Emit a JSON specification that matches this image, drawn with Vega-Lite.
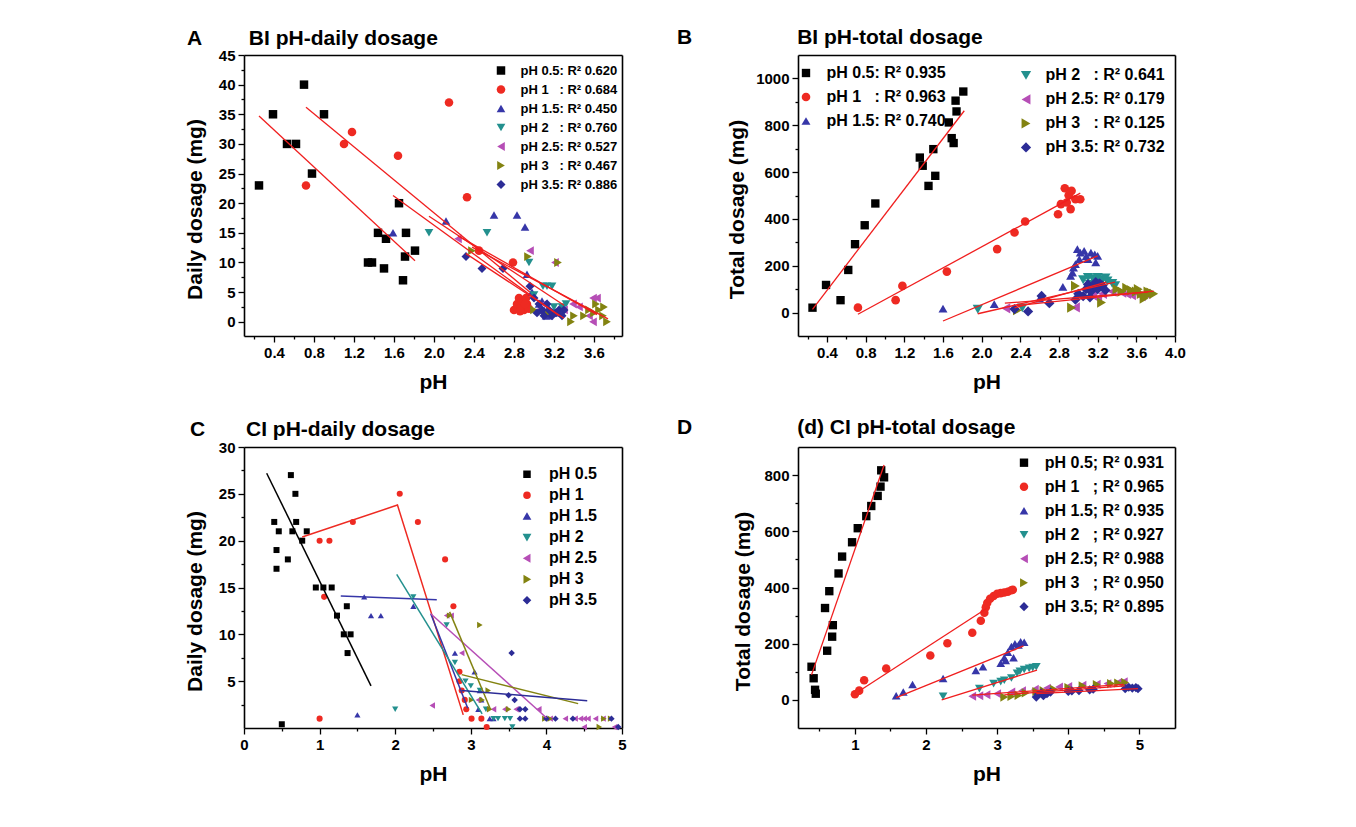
{
"$schema":"https://vega.github.io/schema/vega-lite/v6.json",
"padding":{"left":184,"top":26,"right":10,"bottom":10},
"background":"white",
"config":{
 "font":"Liberation Sans",
 "view":{"stroke":null},
 "axis":{"labelFont":"Liberation Sans","labelFontSize":15,"labelFontWeight":"bold","labelColor":"#000","titleFont":"Liberation Sans","titleFontSize":21,"titleFontWeight":"bold","titleColor":"#000","domain":true,"domainColor":"#000","domainWidth":1.6,"grid":false,"tickColor":"#000","tickWidth":1.3,"labelPadding":3,"labelOverlap":false,"labelFlush":false,"labelBound":false},
 "axisX":{"titlePadding":11},
 "axisY":{"titlePadding":13,"titleY":154},
 "legend":{"labelFont":"Liberation Sans","labelFontWeight":"bold","labelColor":"#000","padding":0,"orient":"none"},
 "title":{"anchor":"start","frame":"group","fontSize":21,"fontWeight":"bold","font":"Liberation Sans","color":"#000","baseline":"alphabetic","offset":11}
},
"datasets":{
"aP":[
{"k":"0.5","x":0.25,"y":23},{"k":"0.5","x":0.39,"y":35},{"k":"0.5","x":0.53,"y":30},{"k":"0.5","x":0.62,"y":30},{"k":"0.5","x":0.70,"y":40},{"k":"0.5","x":0.78,"y":25},{"k":"0.5","x":0.90,"y":35},{"k":"0.5","x":1.34,"y":10},{"k":"0.5","x":1.38,"y":10},{"k":"0.5","x":1.44,"y":15},{"k":"0.5","x":1.50,"y":9},{"k":"0.5","x":1.52,"y":14},{"k":"0.5","x":1.65,"y":20},{"k":"0.5","x":1.69,"y":7},{"k":"0.5","x":1.71,"y":11},{"k":"0.5","x":1.72,"y":15},{"k":"0.5","x":1.81,"y":12},
{"k":"1","x":0.72,"y":23},{"k":"1","x":1.10,"y":30},{"k":"1","x":1.18,"y":32},{"k":"1","x":1.64,"y":28},{"k":"1","x":2.15,"y":37},{"k":"1","x":2.33,"y":21},{"k":"1","x":2.45,"y":12},{"k":"1","x":2.79,"y":10},{"k":"1","x":2.80,"y":2},{"k":"1","x":2.83,"y":3},{"k":"1","x":2.85,"y":4},{"k":"1","x":2.87,"y":2.5},{"k":"1","x":2.88,"y":3.5},{"k":"1","x":2.90,"y":2},{"k":"1","x":2.92,"y":4},{"k":"1","x":2.93,"y":3},{"k":"1","x":2.95,"y":2.2},{"k":"1","x":2.86,"y":1.8},{"k":"1","x":2.91,"y":3},
{"k":"1.5","x":1.59,"y":15},{"k":"1.5","x":2.12,"y":17},{"k":"1.5","x":2.60,"y":18},{"k":"1.5","x":2.83,"y":18},{"k":"1.5","x":2.91,"y":16},{"k":"1.5","x":2.93,"y":8},{"k":"1.5","x":2.98,"y":5},{"k":"1.5","x":3.05,"y":3},{"k":"1.5","x":3.10,"y":2},{"k":"1.5","x":3.15,"y":1},{"k":"1.5","x":3.20,"y":2},{"k":"1.5","x":3.25,"y":1.5},{"k":"1.5","x":3.12,"y":1},{"k":"1.5","x":3.08,"y":3.5},
{"k":"2","x":1.95,"y":15},{"k":"2","x":2.53,"y":15},{"k":"2","x":2.95,"y":10},{"k":"2","x":3.09,"y":6},{"k":"2","x":3.13,"y":6},{"k":"2","x":3.18,"y":6},{"k":"2","x":3.28,"y":2.5},{"k":"2","x":3.20,"y":2.5},{"k":"2","x":3.00,"y":4.5},{"k":"2","x":3.32,"y":3},
{"k":"2.5","x":2.24,"y":14},{"k":"2.5","x":2.96,"y":12},{"k":"2.5","x":3.21,"y":10},{"k":"2.5","x":3.39,"y":3},{"k":"2.5","x":3.59,"y":4},{"k":"2.5","x":3.63,"y":4},{"k":"2.5","x":3.59,"y":0},{"k":"2.5","x":3.05,"y":2},{"k":"2.5","x":3.15,"y":1.5},{"k":"2.5","x":3.30,"y":2},{"k":"2.5","x":3.45,"y":2.5},{"k":"2.5","x":3.55,"y":1},{"k":"2.5","x":3.10,"y":3},
{"k":"3","x":2.38,"y":12},{"k":"3","x":2.94,"y":11},{"k":"3","x":3.24,"y":10},{"k":"3","x":3.00,"y":2},{"k":"3","x":3.37,"y":0},{"k":"3","x":3.50,"y":1},{"k":"3","x":3.55,"y":2},{"k":"3","x":3.62,"y":3},{"k":"3","x":3.65,"y":2},{"k":"3","x":3.69,"y":1},{"k":"3","x":3.73,"y":0},{"k":"3","x":3.70,"y":2.5},{"k":"3","x":3.15,"y":1.5},{"k":"3","x":3.40,"y":1},{"k":"3","x":3.60,"y":1.5},
{"k":"3.5","x":2.32,"y":11},{"k":"3.5","x":2.48,"y":9},{"k":"3.5","x":2.69,"y":9},{"k":"3.5","x":2.96,"y":6},{"k":"3.5","x":3.00,"y":4},{"k":"3.5","x":3.05,"y":3},{"k":"3.5","x":3.08,"y":2},{"k":"3.5","x":3.10,"y":1},{"k":"3.5","x":3.13,"y":3},{"k":"3.5","x":3.15,"y":2},{"k":"3.5","x":3.18,"y":1},{"k":"3.5","x":3.22,"y":1.5},{"k":"3.5","x":3.25,"y":2},{"k":"3.5","x":3.30,"y":2},{"k":"3.5","x":3.28,"y":1},{"k":"3.5","x":3.03,"y":1.5}
],
"aL":[
{"g":"1","x":0.25,"y":34.7},{"g":"1","x":1.81,"y":10.3},
{"g":"2","x":0.72,"y":36.2},{"g":"2","x":2.96,"y":5.0},
{"g":"3","x":1.59,"y":21.3},{"g":"3","x":3.25,"y":1.0},
{"g":"4","x":1.95,"y":17.8},{"g":"4","x":3.30,"y":2.8},
{"g":"5","x":2.24,"y":14.5},{"g":"5","x":3.63,"y":1.2},
{"g":"6","x":2.38,"y":12.6},{"g":"6","x":3.74,"y":0.5},
{"g":"7","x":2.32,"y":11.5},{"g":"7","x":3.30,"y":0.6}
],
"bP":[
{"k":"0.5","x":0.25,"y":21},{"k":"0.5","x":0.39,"y":118},{"k":"0.5","x":0.54,"y":53},{"k":"0.5","x":0.62,"y":182},{"k":"0.5","x":0.69,"y":292},{"k":"0.5","x":0.79,"y":373},{"k":"0.5","x":0.90,"y":466},{"k":"0.5","x":1.36,"y":662},{"k":"0.5","x":1.39,"y":627},{"k":"0.5","x":1.45,"y":541},{"k":"0.5","x":1.50,"y":698},{"k":"0.5","x":1.52,"y":584},{"k":"0.5","x":1.66,"y":812},{"k":"0.5","x":1.69,"y":745},{"k":"0.5","x":1.71,"y":724},{"k":"0.5","x":1.73,"y":905},{"k":"0.5","x":1.74,"y":859},{"k":"0.5","x":1.81,"y":944},
{"k":"1","x":0.72,"y":21},{"k":"1","x":1.11,"y":53},{"k":"1","x":1.18,"y":114},{"k":"1","x":1.64,"y":175},{"k":"1","x":2.16,"y":271},{"k":"1","x":2.34,"y":342},{"k":"1","x":2.45,"y":389},{"k":"1","x":2.79,"y":420},{"k":"1","x":2.82,"y":463},{"k":"1","x":2.86,"y":531},{"k":"1","x":2.90,"y":501},{"k":"1","x":2.93,"y":520},{"k":"1","x":2.92,"y":442},{"k":"1","x":2.97,"y":484},{"k":"1","x":3.02,"y":484},{"k":"1","x":2.88,"y":470},
{"k":"1.5","x":1.60,"y":17},{"k":"1.5","x":2.13,"y":36},{"k":"1.5","x":2.60,"y":60},{"k":"1.5","x":2.84,"y":110},{"k":"1.5","x":2.92,"y":157},{"k":"1.5","x":2.95,"y":192},{"k":"1.5","x":2.97,"y":207},{"k":"1.5","x":2.99,"y":271},{"k":"1.5","x":3.02,"y":256},{"k":"1.5","x":3.06,"y":264},{"k":"1.5","x":3.10,"y":228},{"k":"1.5","x":3.13,"y":256},{"k":"1.5","x":3.17,"y":249},{"k":"1.5","x":3.18,"y":214},{"k":"1.5","x":3.20,"y":242},{"k":"1.5","x":3.01,"y":228},{"k":"1.5","x":2.94,"y":171},{"k":"1.5","x":3.08,"y":240},
{"k":"2","x":1.96,"y":14},{"k":"2","x":2.42,"y":20},{"k":"2","x":3.05,"y":140},{"k":"2","x":3.10,"y":150},{"k":"2","x":3.15,"y":145},{"k":"2","x":3.20,"y":150},{"k":"2","x":3.25,"y":140},{"k":"2","x":3.30,"y":135},{"k":"2","x":3.35,"y":125},{"k":"2","x":3.38,"y":115},{"k":"2","x":3.12,"y":120},{"k":"2","x":3.22,"y":125},{"k":"2","x":3.28,"y":148},
{"k":"2.5","x":2.25,"y":18},{"k":"2.5","x":2.97,"y":22},{"k":"2.5","x":3.15,"y":75},{"k":"2.5","x":3.20,"y":60},{"k":"2.5","x":3.25,"y":80},{"k":"2.5","x":3.35,"y":90},{"k":"2.5","x":3.45,"y":85},{"k":"2.5","x":3.50,"y":80},{"k":"2.5","x":3.55,"y":75},{"k":"2.5","x":3.60,"y":85},{"k":"2.5","x":3.65,"y":70},{"k":"2.5","x":3.70,"y":80},
{"k":"3","x":2.37,"y":10},{"k":"3","x":2.93,"y":21},{"k":"3","x":2.97,"y":114},{"k":"3","x":3.24,"y":43},{"k":"3","x":3.40,"y":100},{"k":"3","x":3.45,"y":90},{"k":"3","x":3.50,"y":105},{"k":"3","x":3.55,"y":95},{"k":"3","x":3.60,"y":90},{"k":"3","x":3.62,"y":100},{"k":"3","x":3.65,"y":80},{"k":"3","x":3.68,"y":60},{"k":"3","x":3.70,"y":70},{"k":"3","x":3.72,"y":90},{"k":"3","x":3.75,"y":85},{"k":"3","x":3.78,"y":80},
{"k":"3.5","x":2.34,"y":15},{"k":"3.5","x":2.48,"y":5},{"k":"3.5","x":2.62,"y":71},{"k":"3.5","x":2.70,"y":40},{"k":"3.5","x":2.97,"y":55},{"k":"3.5","x":3.00,"y":80},{"k":"3.5","x":3.05,"y":70},{"k":"3.5","x":3.08,"y":100},{"k":"3.5","x":3.10,"y":120},{"k":"3.5","x":3.12,"y":65},{"k":"3.5","x":3.13,"y":90},{"k":"3.5","x":3.15,"y":110},{"k":"3.5","x":3.18,"y":130},{"k":"3.5","x":3.20,"y":100},{"k":"3.5","x":3.22,"y":125},{"k":"3.5","x":3.25,"y":115},{"k":"3.5","x":3.28,"y":95}
],
"bL":[
{"g":"1","x":0.25,"y":14},{"g":"1","x":1.82,"y":862},
{"g":"2","x":0.72,"y":-7},{"g":"2","x":3.02,"y":510},
{"g":"3","x":1.60,"y":-36},{"g":"3","x":3.20,"y":242},
{"g":"4","x":1.96,"y":-5},{"g":"4","x":3.38,"y":130},
{"g":"5","x":2.24,"y":40},{"g":"5","x":3.72,"y":88},
{"g":"6","x":2.36,"y":30},{"g":"6","x":3.78,"y":92},
{"g":"7","x":2.34,"y":20},{"g":"7","x":3.29,"y":130}
],
"cP":[
{"k":"0.5","x":0.40,"y":22},{"k":"0.5","x":0.46,"y":21},{"k":"0.5","x":0.43,"y":19},{"k":"0.5","x":0.43,"y":17},{"k":"0.5","x":0.58,"y":18},{"k":"0.5","x":0.62,"y":27},{"k":"0.5","x":0.64,"y":21},{"k":"0.5","x":0.68,"y":25},{"k":"0.5","x":0.69,"y":22},{"k":"0.5","x":0.77,"y":20},{"k":"0.5","x":0.83,"y":21},{"k":"0.5","x":0.95,"y":15},{"k":"0.5","x":1.05,"y":15},{"k":"0.5","x":1.16,"y":15},{"k":"0.5","x":1.23,"y":12},{"k":"0.5","x":1.32,"y":10},{"k":"0.5","x":1.36,"y":13},{"k":"0.5","x":1.41,"y":10},{"k":"0.5","x":1.37,"y":8},{"k":"0.5","x":0.50,"y":0.4},
{"k":"1","x":1.00,"y":20},{"k":"1","x":1.13,"y":20},{"k":"1","x":1.06,"y":14},{"k":"1","x":1.44,"y":22},{"k":"1","x":1.00,"y":1},{"k":"1","x":2.06,"y":25},{"k":"1","x":2.30,"y":22},{"k":"1","x":2.66,"y":18},{"k":"1","x":2.77,"y":13},{"k":"1","x":2.85,"y":6},{"k":"1","x":2.85,"y":5},{"k":"1","x":2.88,"y":4},{"k":"1","x":2.92,"y":3},{"k":"1","x":2.94,"y":2},{"k":"1","x":3.01,"y":1},{"k":"1","x":3.14,"y":1},{"k":"1","x":3.21,"y":0.1},
{"k":"1.5","x":1.50,"y":1.4},{"k":"1.5","x":1.59,"y":14},{"k":"1.5","x":1.68,"y":12},{"k":"1.5","x":1.81,"y":12},{"k":"1.5","x":2.24,"y":13},{"k":"1.5","x":2.79,"y":8},{"k":"1.5","x":3.05,"y":6},{"k":"1.5","x":3.12,"y":4},{"k":"1.5","x":3.14,"y":3},{"k":"1.5","x":3.10,"y":2},{"k":"1.5","x":3.25,"y":1},{"k":"1.5","x":3.30,"y":1},
{"k":"2","x":2.00,"y":2},{"k":"2","x":2.24,"y":14},{"k":"2","x":2.68,"y":11},{"k":"2","x":2.79,"y":7},{"k":"2","x":2.93,"y":5},{"k":"2","x":3.00,"y":4.5},{"k":"2","x":3.12,"y":4},{"k":"2","x":3.20,"y":2},{"k":"2","x":3.30,"y":1},{"k":"2","x":3.36,"y":1},{"k":"2","x":3.45,"y":1},{"k":"2","x":3.52,"y":1},{"k":"2","x":3.55,"y":0.1},
{"k":"2.5","x":2.49,"y":2.4},{"k":"2.5","x":2.68,"y":12},{"k":"2.5","x":2.74,"y":12},{"k":"2.5","x":2.88,"y":8},{"k":"2.5","x":3.10,"y":3},{"k":"2.5","x":3.30,"y":2},{"k":"2.5","x":3.45,"y":2},{"k":"2.5","x":3.60,"y":2},{"k":"2.5","x":3.90,"y":2},{"k":"2.5","x":4.05,"y":1},{"k":"2.5","x":4.25,"y":1},{"k":"2.5","x":4.38,"y":1},{"k":"2.5","x":4.45,"y":1},{"k":"2.5","x":4.50,"y":1},{"k":"2.5","x":4.55,"y":1},{"k":"2.5","x":4.65,"y":1},{"k":"2.5","x":4.75,"y":1},{"k":"2.5","x":4.90,"y":0.1},{"k":"2.5","x":4.50,"y":0.1},
{"k":"3","x":2.72,"y":12},{"k":"3","x":3.12,"y":11},{"k":"3","x":3.01,"y":3},{"k":"3","x":3.23,"y":4},{"k":"3","x":3.25,"y":2},{"k":"3","x":3.50,"y":2},{"k":"3","x":3.98,"y":1},{"k":"3","x":4.05,"y":1},{"k":"3","x":4.76,"y":1},{"k":"3","x":4.70,"y":0.1},{"k":"3","x":4.85,"y":1},{"k":"3","x":3.15,"y":3},
{"k":"3.5","x":3.54,"y":8},{"k":"3.5","x":3.50,"y":3.5},{"k":"3.5","x":3.58,"y":3},{"k":"3.5","x":3.65,"y":2},{"k":"3.5","x":3.72,"y":2},{"k":"3.5","x":3.65,"y":1},{"k":"3.5","x":3.72,"y":1},{"k":"3.5","x":4.00,"y":1},{"k":"3.5","x":4.12,"y":1},{"k":"3.5","x":4.35,"y":1},{"k":"3.5","x":4.86,"y":1},{"k":"3.5","x":4.95,"y":0.1}
],
"cL":[
{"k":"0.5","g":"b1","x":0.30,"y":27.2},{"k":"0.5","g":"b1","x":1.68,"y":4.5},
{"k":"1","g":"r1","x":0.77,"y":20.4},{"k":"1","g":"r1","x":2.03,"y":23.8},{"k":"1","g":"r1","x":2.90,"y":1.4},
{"k":"1.5","g":"u1","x":1.28,"y":14.1},{"k":"1.5","g":"u1","x":2.55,"y":13.7},
{"k":"1.5","g":"u2","x":2.47,"y":12.2},{"k":"1.5","g":"u2","x":2.96,"y":2.1},
{"k":"2","g":"t1","x":2.02,"y":16.4},{"k":"2","g":"t1","x":3.15,"y":1.5},
{"k":"2.5","g":"m1","x":2.47,"y":12.2},{"k":"2.5","g":"m1","x":4.00,"y":1.1},
{"k":"3","g":"o1","x":2.72,"y":12.4},{"k":"3","g":"o1","x":3.26,"y":2.0},
{"k":"3","g":"o2","x":2.88,"y":5.7},{"k":"3","g":"o2","x":4.42,"y":2.6},
{"k":"3.5","g":"n1","x":2.88,"y":4.0},{"k":"3.5","g":"n1","x":4.54,"y":2.9}
],
"dP":[
{"k":"0.5","x":0.39,"y":118},{"k":"0.5","x":0.42,"y":77},{"k":"0.5","x":0.44,"y":36},{"k":"0.5","x":0.45,"y":22},{"k":"0.5","x":0.61,"y":175},{"k":"0.5","x":0.58,"y":327},{"k":"0.5","x":0.64,"y":387},{"k":"0.5","x":0.69,"y":266},{"k":"0.5","x":0.68,"y":225},{"k":"0.5","x":0.77,"y":450},{"k":"0.5","x":0.82,"y":510},{"k":"0.5","x":0.96,"y":561},{"k":"0.5","x":1.04,"y":611},{"k":"0.5","x":1.16,"y":654},{"k":"0.5","x":1.23,"y":690},{"k":"0.5","x":1.32,"y":726},{"k":"0.5","x":1.36,"y":759},{"k":"0.5","x":1.37,"y":817},{"k":"0.5","x":1.41,"y":792},
{"k":"1","x":1.00,"y":20},{"k":"1","x":1.06,"y":33},{"k":"1","x":1.13,"y":70},{"k":"1","x":1.44,"y":112},{"k":"1","x":2.06,"y":158},{"k":"1","x":2.30,"y":202},{"k":"1","x":2.65,"y":239},{"k":"1","x":2.77,"y":282},{"k":"1","x":2.82,"y":310},{"k":"1","x":2.84,"y":330},{"k":"1","x":2.86,"y":345},{"k":"1","x":2.90,"y":360},{"k":"1","x":2.95,"y":370},{"k":"1","x":3.00,"y":378},{"k":"1","x":3.05,"y":380},{"k":"1","x":3.10,"y":382},{"k":"1","x":3.15,"y":385},{"k":"1","x":3.20,"y":390},{"k":"1","x":3.22,"y":392},
{"k":"1.5","x":1.58,"y":15},{"k":"1.5","x":1.68,"y":28},{"k":"1.5","x":1.81,"y":55},{"k":"1.5","x":2.24,"y":76},{"k":"1.5","x":2.70,"y":105},{"k":"1.5","x":2.80,"y":118},{"k":"1.5","x":3.05,"y":130},{"k":"1.5","x":3.10,"y":150},{"k":"1.5","x":3.15,"y":170},{"k":"1.5","x":3.20,"y":190},{"k":"1.5","x":3.25,"y":200},{"k":"1.5","x":3.30,"y":195},{"k":"1.5","x":3.33,"y":207},{"k":"1.5","x":3.38,"y":205},{"k":"1.5","x":3.23,"y":150},{"k":"1.5","x":3.12,"y":140},
{"k":"2","x":2.24,"y":13},{"k":"2","x":2.75,"y":40},{"k":"2","x":2.95,"y":58},{"k":"2","x":3.05,"y":65},{"k":"2","x":3.10,"y":70},{"k":"2","x":3.20,"y":78},{"k":"2","x":3.28,"y":95},{"k":"2","x":3.32,"y":102},{"k":"2","x":3.38,"y":108},{"k":"2","x":3.45,"y":112},{"k":"2","x":3.50,"y":115},{"k":"2","x":3.55,"y":118},
{"k":"2.5","x":2.65,"y":13},{"k":"2.5","x":2.75,"y":15},{"k":"2.5","x":2.85,"y":18},{"k":"2.5","x":3.00,"y":22},{"k":"2.5","x":3.20,"y":28},{"k":"2.5","x":3.35,"y":33},{"k":"2.5","x":3.53,"y":38},{"k":"2.5","x":3.70,"y":42},{"k":"2.5","x":3.87,"y":46},{"k":"2.5","x":4.00,"y":48},{"k":"2.5","x":4.20,"y":52},{"k":"2.5","x":4.40,"y":56},{"k":"2.5","x":4.55,"y":58},{"k":"2.5","x":4.70,"y":62},{"k":"2.5","x":4.78,"y":65},
{"k":"3","x":3.10,"y":10},{"k":"3","x":3.20,"y":12},{"k":"3","x":3.30,"y":16},{"k":"3","x":3.40,"y":25},{"k":"3","x":3.55,"y":30},{"k":"3","x":3.65,"y":33},{"k":"3","x":3.80,"y":38},{"k":"3","x":4.00,"y":44},{"k":"3","x":4.20,"y":50},{"k":"3","x":4.40,"y":55},{"k":"3","x":4.60,"y":58},{"k":"3","x":4.70,"y":60},{"k":"3","x":4.80,"y":62},
{"k":"3.5","x":3.55,"y":10},{"k":"3.5","x":3.58,"y":20},{"k":"3.5","x":3.62,"y":25},{"k":"3.5","x":3.65,"y":15},{"k":"3.5","x":3.70,"y":22},{"k":"3.5","x":3.75,"y":28},{"k":"3.5","x":4.00,"y":30},{"k":"3.5","x":4.05,"y":32},{"k":"3.5","x":4.15,"y":33},{"k":"3.5","x":4.30,"y":36},{"k":"3.5","x":4.35,"y":38},{"k":"3.5","x":4.80,"y":40},{"k":"3.5","x":4.85,"y":45},{"k":"3.5","x":4.90,"y":42},{"k":"3.5","x":4.95,"y":44},{"k":"3.5","x":4.98,"y":40}
],
"dL":[
{"g":"1","x":0.39,"y":89},{"g":"1","x":1.41,"y":836},
{"g":"2","x":1.05,"y":30},{"g":"2","x":2.85,"y":325},
{"g":"3","x":1.58,"y":8},{"g":"3","x":3.37,"y":192},
{"g":"4","x":2.22,"y":0},{"g":"4","x":3.56,"y":106},
{"g":"5","x":2.65,"y":17},{"g":"5","x":4.78,"y":55},
{"g":"6","x":3.10,"y":18},{"g":"6","x":4.80,"y":50},
{"g":"7","x":3.55,"y":22},{"g":"7","x":4.98,"y":40}
]
},
"columns":2,
"spacing":{"row":111,"column":176},
"bounds":"flush",
"resolve":{"scale":{"color":"independent","shape":"independent","size":"independent"},"legend":{"color":"independent","shape":"independent"}},
"concat":[
{
 "width":378,"height":281,
 "title":{"text":"A\u00a0\u00a0\u00a0\u00a0\u00a0\u00a0\u00a0\u00a0BI pH-daily dosage","dx":-57,"offset":-0.5},
 "resolve":{"axis":{"x":"independent","y":"independent"}},
 "encoding":{
  "x":{"field":"x","type":"quantitative","title":"pH","scale":{"domain":[0.1,3.88],"nice":false,"zero":false},
   "axis":{"values":[0.2,0.4,0.6,0.8,1.0,1.2,1.4,1.6,1.8,2.0,2.2,2.4,2.6,2.8,3.0,3.2,3.4,3.6,3.8],"labelExpr":"abs(datum.value/0.4-round(datum.value/0.4))<0.01 ? format(datum.value,'.1f') : ''","tickSize":{"condition":{"test":"abs(datum.value/0.4-round(datum.value/0.4))<0.01","value":6},"value":3}}},
  "y":{"field":"y","type":"quantitative","title":"Daily dosage (mg)","scale":{"domain":[-2.4,45],"nice":false,"zero":false},
   "axis":{"values":[0,2.5,5,7.5,10,12.5,15,17.5,20,22.5,25,27.5,30,32.5,35,37.5,40,42.5,45],"labelExpr":"datum.value%5==0 ? format(datum.value,'d') : ''","tickSize":{"condition":{"test":"datum.value%5==0","value":6},"value":3}}}
 },
 "layer":[
  {"data":{"name":"aP"},"mark":{"type":"point","filled":true,"opacity":1},
   "encoding":{
    "size":{"field":"k","type":"nominal","legend":null,"scale":{"domain":["0.5","1","1.5","2","2.5","3","3.5"],"range":[72,80,105,105,105,105,85]}},
    "color":{"field":"k","type":"nominal","scale":{"domain":["0.5","1","1.5","2","2.5","3","3.5"],"range":["#000000","#EE2A22","#3636A8","#23908E","#B64EB6","#838311","#2C2C96"]},
     "legend":{"title":null,"legendX":250.5,"legendY":9,"labelFontSize":13,"symbolSize":80,"rowPadding":5,"labelOffset":13,"labelExpr":"datum.label=='0.5'?'pH 0.5: R² 0.620':datum.label=='1'?'pH 1\u00a0\u00a0\u00a0: R² 0.684':datum.label=='1.5'?'pH 1.5: R² 0.450':datum.label=='2'?'pH 2\u00a0\u00a0\u00a0: R² 0.760':datum.label=='2.5'?'pH 2.5: R² 0.527':datum.label=='3'?'pH 3\u00a0\u00a0\u00a0: R² 0.467':'pH 3.5: R² 0.886'"}},
    "shape":{"field":"k","type":"nominal","scale":{"domain":["0.5","1","1.5","2","2.5","3","3.5"],"range":["square","circle","triangle-up","triangle-down","triangle-left","triangle-right","diamond"]},
     "legend":{"title":null,"legendX":250.5,"legendY":9,"labelFontSize":13,"symbolSize":80,"rowPadding":5,"labelOffset":13,"labelExpr":"datum.label=='0.5'?'pH 0.5: R² 0.620':datum.label=='1'?'pH 1\u00a0\u00a0\u00a0: R² 0.684':datum.label=='1.5'?'pH 1.5: R² 0.450':datum.label=='2'?'pH 2\u00a0\u00a0\u00a0: R² 0.760':datum.label=='2.5'?'pH 2.5: R² 0.527':datum.label=='3'?'pH 3\u00a0\u00a0\u00a0: R² 0.467':'pH 3.5: R² 0.886'"}}
   }},
  {"data":{"name":"aL"},"mark":{"type":"line","color":"#F01E1E","strokeWidth":1.3},
   "encoding":{"detail":{"field":"g"},
    "x":{"field":"x","type":"quantitative","scale":{"domain":[0.1,3.88],"nice":false,"zero":false},"axis":{"orient":"top","labels":false,"ticks":false,"title":null}},
    "y":{"field":"y","type":"quantitative","scale":{"domain":[-2.4,45],"nice":false,"zero":false},"axis":{"orient":"right","labels":false,"ticks":false,"title":null}}}}
 ]
},
{
 "width":377,"height":281,
 "title":{"text":"B\u00a0\u00a0\u00a0\u00a0\u00a0\u00a0\u00a0\u00a0\u00a0\u00a0\u00a0\u00a0\u00a0\u00a0\u00a0\u00a0\u00a0\u00a0BI pH-total dosage","dx":-121,"offset":7.2},
 "encoding":{
  "x":{"field":"x","type":"quantitative","title":"pH","scale":{"domain":[0.1,4.0],"nice":false,"zero":false},
   "axis":{"values":[0.2,0.4,0.6,0.8,1.0,1.2,1.4,1.6,1.8,2.0,2.2,2.4,2.6,2.8,3.0,3.2,3.4,3.6,3.8,4.0],"labelExpr":"abs(datum.value/0.4-round(datum.value/0.4))<0.01 ? format(datum.value,'.1f') : ''","tickSize":{"condition":{"test":"abs(datum.value/0.4-round(datum.value/0.4))<0.01","value":6},"value":3}}},
  "y":{"field":"y","type":"quantitative","title":"Total dosage (mg)","scale":{"domain":[-100,1100],"nice":false,"zero":false},
   "axis":{"values":[0,100,200,300,400,500,600,700,800,900,1000],"titlePadding":8,"labelExpr":"datum.value%200==0 ? format(datum.value,'d') : ''","tickSize":{"condition":{"test":"datum.value%200==0","value":6},"value":3}}}
 },
 "resolve":{"scale":{"color":"independent","shape":"independent","size":"independent"},"legend":{"color":"independent","shape":"independent"},"axis":{"x":"independent","y":"independent"}},
 "layer":[
  {"data":{"name":"bP"},"transform":[{"filter":{"field":"k","oneOf":["0.5","1","1.5"]}}],"mark":{"type":"point","filled":true,"opacity":1},
   "encoding":{
    "size":{"field":"k","type":"nominal","legend":null,"scale":{"domain":["0.5","1","1.5"],"range":[70,80,105]}},
    "color":{"field":"k","type":"nominal","scale":{"domain":["0.5","1","1.5"],"range":["#000000","#EE2A22","#3636A8"]},
     "legend":{"title":null,"legendX":0,"legendY":10,"labelFontSize":16,"symbolSize":85,"rowPadding":8,"labelOffset":12.5,"labelExpr":"datum.label=='0.5'?'pH 0.5: R² 0.935':datum.label=='1'?'pH 1\u00a0\u00a0\u00a0: R² 0.963':'pH 1.5: R² 0.740'"}},
    "shape":{"field":"k","type":"nominal","scale":{"domain":["0.5","1","1.5"],"range":["square","circle","triangle-up"]},
     "legend":{"title":null,"legendX":0,"legendY":10,"labelFontSize":16,"symbolSize":85,"rowPadding":8,"labelOffset":12.5,"labelExpr":"datum.label=='0.5'?'pH 0.5: R² 0.935':datum.label=='1'?'pH 1\u00a0\u00a0\u00a0: R² 0.963':'pH 1.5: R² 0.740'"}}
   }},
  {"data":{"name":"bP"},"transform":[{"filter":{"field":"k","oneOf":["2","2.5","3","3.5"]}}],"mark":{"type":"point","filled":true,"opacity":1},
   "encoding":{
    "x":{"field":"x","type":"quantitative","scale":{"domain":[0.1,4.0],"nice":false,"zero":false},"axis":null},
    "y":{"field":"y","type":"quantitative","scale":{"domain":[-100,1100],"nice":false,"zero":false},"axis":null},
    "size":{"field":"k","type":"nominal","legend":null,"scale":{"domain":["2","2.5","3","3.5"],"range":[105,105,105,85]}},
    "color":{"field":"k","type":"nominal","scale":{"domain":["2","2.5","3","3.5"],"range":["#23908E","#B64EB6","#838311","#2C2C96"]},
     "legend":{"title":null,"legendX":220,"legendY":12.4,"labelFontSize":16,"symbolSize":85,"rowPadding":8,"labelOffset":11.5,"labelExpr":"datum.label=='2'?'pH 2\u00a0\u00a0\u00a0: R² 0.641':datum.label=='2.5'?'pH 2.5: R² 0.179':datum.label=='3'?'pH 3\u00a0\u00a0\u00a0: R² 0.125':'pH 3.5: R² 0.732'"}},
    "shape":{"field":"k","type":"nominal","scale":{"domain":["2","2.5","3","3.5"],"range":["triangle-down","triangle-left","triangle-right","diamond"]},
     "legend":{"title":null,"legendX":220,"legendY":12.4,"labelFontSize":16,"symbolSize":85,"rowPadding":8,"labelOffset":11.5,"labelExpr":"datum.label=='2'?'pH 2\u00a0\u00a0\u00a0: R² 0.641':datum.label=='2.5'?'pH 2.5: R² 0.179':datum.label=='3'?'pH 3\u00a0\u00a0\u00a0: R² 0.125':'pH 3.5: R² 0.732'"}}
   }},
  {"data":{"name":"bL"},"mark":{"type":"line","color":"#F01E1E","strokeWidth":1.3},
   "encoding":{"detail":{"field":"g"},
    "x":{"field":"x","type":"quantitative","scale":{"domain":[0.1,4.0],"nice":false,"zero":false},"axis":{"orient":"top","labels":false,"ticks":false,"title":null}},
    "y":{"field":"y","type":"quantitative","scale":{"domain":[-100,1100],"nice":false,"zero":false},"axis":{"orient":"right","labels":false,"ticks":false,"title":null}}}}
 ]
},
{
 "width":378,"height":281,
 "title":{"text":"C\u00a0\u00a0\u00a0\u00a0\u00a0\u00a0\u00a0CI pH-daily dosage","dx":-54,"offset":0},
 "resolve":{"axis":{"x":"independent","y":"independent"}},
 "encoding":{
  "x":{"field":"x","type":"quantitative","title":"pH","scale":{"domain":[0,5],"nice":false,"zero":false},
   "axis":{"values":[0,0.5,1,1.5,2,2.5,3,3.5,4,4.5,5],"labelExpr":"datum.value%1==0 ? format(datum.value,'d') : ''","tickSize":{"condition":{"test":"datum.value%1==0","value":6},"value":3}}},
  "y":{"field":"y","type":"quantitative","title":"Daily dosage (mg)","scale":{"domain":[0,30],"nice":false,"zero":false},
   "axis":{"values":[2.5,5,7.5,10,12.5,15,17.5,20,22.5,25,27.5,30],"labelExpr":"datum.value%5==0 ? format(datum.value,'d') : ''","tickSize":{"condition":{"test":"datum.value%5==0","value":6},"value":3}}}
 },
 "layer":[
  {"data":{"name":"cP"},"mark":{"type":"point","filled":true,"opacity":1},
   "encoding":{
    "size":{"field":"k","type":"nominal","legend":null,"scale":{"domain":["0.5","1","1.5","2","2.5","3","3.5"],"range":[36,42,55,55,55,55,45]}},
    "color":{"field":"k","type":"nominal","scale":{"domain":["0.5","1","1.5","2","2.5","3","3.5"],"range":["#000000","#EE2A22","#3636A8","#23908E","#B64EB6","#838311","#2C2C96"]},
     "legend":{"title":null,"legendX":275,"legendY":19.3,"labelFontSize":16,"symbolSize":45,"rowPadding":5,"labelOffset":14,"labelExpr":"'pH ' + datum.label"}},
    "shape":{"field":"k","type":"nominal","scale":{"domain":["0.5","1","1.5","2","2.5","3","3.5"],"range":["square","circle","triangle-up","triangle-down","triangle-left","triangle-right","diamond"]},
     "legend":{"title":null,"legendX":275,"legendY":19.3,"labelFontSize":16,"symbolSize":45,"rowPadding":5,"labelOffset":14,"labelExpr":"'pH ' + datum.label"}}
   }},
  {"data":{"name":"cL"},"mark":{"type":"line","strokeWidth":1.5},
   "encoding":{"detail":{"field":"g"},"color":{"field":"k","type":"nominal","legend":null},
    "x":{"field":"x","type":"quantitative","scale":{"domain":[0,5],"nice":false,"zero":false},"axis":{"orient":"top","labels":false,"ticks":false,"title":null}},
    "y":{"field":"y","type":"quantitative","scale":{"domain":[0,30],"nice":false,"zero":false},"axis":{"orient":"right","labels":false,"ticks":false,"title":null}}}}
 ]
},
{
 "width":377,"height":281,
 "title":{"text":"D\u00a0\u00a0\u00a0\u00a0\u00a0\u00a0\u00a0\u00a0\u00a0\u00a0\u00a0\u00a0\u00a0\u00a0\u00a0\u00a0\u00a0\u00a0(d) CI pH-total dosage","dx":-121,"offset":9.3},
 "resolve":{"axis":{"x":"independent","y":"independent"}},
 "encoding":{
  "x":{"field":"x","type":"quantitative","title":"pH","scale":{"domain":[0.2,5.5],"nice":false,"zero":false},
   "axis":{"values":[0.5,1,1.5,2,2.5,3,3.5,4,4.5,5],"labelExpr":"datum.value%1==0 ? format(datum.value,'d') : ''","tickSize":{"condition":{"test":"datum.value%1==0","value":6},"value":3}}},
  "y":{"field":"y","type":"quantitative","title":"Total dosage (mg)","scale":{"domain":[-100,900],"nice":false,"zero":false},
   "axis":{"values":[0,100,200,300,400,500,600,700,800],"titlePadding":10,"labelExpr":"datum.value%200==0 ? format(datum.value,'d') : ''","tickSize":{"condition":{"test":"datum.value%200==0","value":6},"value":3}}}
 },
 "layer":[
  {"data":{"name":"dP"},"mark":{"type":"point","filled":true,"opacity":1},
   "encoding":{
    "size":{"field":"k","type":"nominal","legend":null,"scale":{"domain":["0.5","1","1.5","2","2.5","3","3.5"],"range":[70,85,105,105,105,105,85]}},
    "color":{"field":"k","type":"nominal","scale":{"domain":["0.5","1","1.5","2","2.5","3","3.5"],"range":["#000000","#EE2A22","#3636A8","#23908E","#B64EB6","#838311","#2C2C96"]},
     "legend":{"title":null,"legendX":218,"legendY":7.7,"labelFontSize":16,"symbolSize":85,"rowPadding":8,"labelOffset":12.8,"labelExpr":"datum.label=='0.5'?'pH 0.5; R² 0.931':datum.label=='1'?'pH 1\u00a0\u00a0\u00a0; R² 0.965':datum.label=='1.5'?'pH 1.5; R² 0.935':datum.label=='2'?'pH 2\u00a0\u00a0\u00a0; R² 0.927':datum.label=='2.5'?'pH 2.5; R² 0.988':datum.label=='3'?'pH 3\u00a0\u00a0\u00a0; R² 0.950':'pH 3.5; R² 0.895'"}},
    "shape":{"field":"k","type":"nominal","scale":{"domain":["0.5","1","1.5","2","2.5","3","3.5"],"range":["square","circle","triangle-up","triangle-down","triangle-left","triangle-right","diamond"]},
     "legend":{"title":null,"legendX":218,"legendY":7.7,"labelFontSize":16,"symbolSize":85,"rowPadding":8,"labelOffset":12.8,"labelExpr":"datum.label=='0.5'?'pH 0.5; R² 0.931':datum.label=='1'?'pH 1\u00a0\u00a0\u00a0; R² 0.965':datum.label=='1.5'?'pH 1.5; R² 0.935':datum.label=='2'?'pH 2\u00a0\u00a0\u00a0; R² 0.927':datum.label=='2.5'?'pH 2.5; R² 0.988':datum.label=='3'?'pH 3\u00a0\u00a0\u00a0; R² 0.950':'pH 3.5; R² 0.895'"}}
   }},
  {"data":{"name":"dL"},"mark":{"type":"line","color":"#F01E1E","strokeWidth":1.3},
   "encoding":{"detail":{"field":"g"},
    "x":{"field":"x","type":"quantitative","scale":{"domain":[0.2,5.5],"nice":false,"zero":false},"axis":{"orient":"top","labels":false,"ticks":false,"title":null}},
    "y":{"field":"y","type":"quantitative","scale":{"domain":[-100,900],"nice":false,"zero":false},"axis":{"orient":"right","labels":false,"ticks":false,"title":null}}}}
 ]
}
]
}
